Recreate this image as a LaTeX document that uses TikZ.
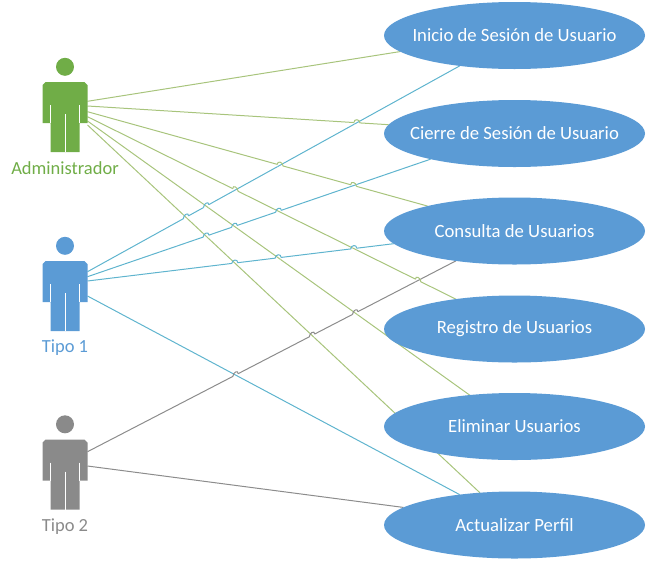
\documentclass[tikz,border=0pt]{standalone}
\usepackage{fontspec}
\setmainfont{Carlito}
\usetikzlibrary{shapes.geometric,positioning,calc,intersections,backgrounds}

\definecolor{usecaseblue}{HTML}{5B9BD5}
\definecolor{admingreen}{HTML}{70AD47}
\definecolor{actorgray}{HTML}{8A8A8A}
\definecolor{greenwire}{HTML}{A8C47C}
\definecolor{bluewire}{HTML}{5FB4CE}
\definecolor{graywire}{HTML}{8C8C8C}

\tikzset{
  usecase/.style={ellipse, fill=usecaseblue, text=white, minimum width=261pt, minimum height=67pt,
    inner sep=0pt, outer sep=0pt, font=\fontsize{18.7}{22}\selectfont},
  actorname/.style={font=\fontsize{18.5}{22}\selectfont, inner sep=0pt},
  greenline/.style={draw=greenwire, line width=1pt},
  blueline/.style={draw=bluewire, line width=1pt},
  grayline/.style={draw=graywire, line width=1pt}
}

% name, y of the body, colour, text
\newcommand{\actor}[4]{
  \node (#1) [minimum width=45pt, minimum height=70pt, inner sep=0pt, outer sep=0pt] at (65,#2) {};
  \node (#1head) [circle, fill=#3, minimum size=18pt, inner sep=0pt, above=6pt of #1] {};
  \node (#1name) [actorname, text=#3, below=9pt of #1] {#4};
  \fill[#3] ([shift={(-19.5,-35)}]#1.center) -- ++(39,0) -- ++(3,3) -- ++(0,38) -- ++(-8,0) -- ++(0,29)
    -- ++(-29,0) -- ++(0,-29) -- ++(-8,0) -- ++(0,-38) -- cycle;
  \draw[white, line width=.8pt] ([shift={(-14.5,-12)}]#1.center) -- ++(0,18);
  \draw[white, line width=.8pt] ([shift={(14.5,-12)}]#1.center) -- ++(0,18);
  \draw[white, line width=.8pt] ([shift={(0,-3)}]#1.center) -- ++(0,38);
}

% line that jumps, its style, line below, its style
\newcommand{\hop}[4]{
  \path[name path=hopa] (#1s) -- (#1e);
  \path[name path=hopb] (#3s) -- (#3e);
  \path[name intersections={of=hopa and hopb, by=x}];
  \fill[white] (x) circle (3pt);
  \begin{scope}
    \clip (x) circle (3pt);
    \draw[#4] (#3s) -- (#3e);
  \end{scope}
  \draw[#2] ($(x)!3pt!(#1s)$) .. controls +(0,-4) and +(0,-4) .. ($(x)!3pt!(#1e)$);
}

\begin{document}
\begin{tikzpicture}[x=1pt, y=-1pt]
  \useasboundingbox (0,0) rectangle (647,560);

  \actor{admin}{117}{admingreen}{Administrador}
  \actor{tipoa}{296}{usecaseblue}{Tipo 1}
  \actor{tipob}{474.5}{actorgray}{Tipo 2}

  \node (inicio) [usecase] at (514.5,35.5) {\makebox[0pt]{Inicio de Sesión de Usuario}};
  \node (cierre) [usecase] at (514.5,133.5) {\makebox[0pt]{Cierre de Sesión de Usuario}};
  \node (consulta) [usecase] at (514.5,231) {\makebox[0pt]{Consulta de Usuarios}};
  \node (registro) [usecase] at (514.5,329) {\makebox[0pt]{Registro de Usuarios}};
  \node (eliminar) [usecase] at (514.5,426.5) {\makebox[0pt]{Eliminar Usuarios}};
  \node (perfil) [usecase] at (514.5,525) {\makebox[0pt]{Actualizar Perfil}};

  \begin{scope}[on background layer]
    \foreach \id/\sty/\from/\shift/\to/\ang in {
      la/greenline/admin/15.7/inicio/188.7, lb/greenline/admin/11/cierre/176.2,
      lc/greenline/admin/5.3/consulta/164.4, ld/greenline/admin/.3/registro/153.6,
      le/greenline/admin/-4/eliminar/145.3, lf/greenline/admin/-8/perfil/137.1,
      ta/blueline/tipoa/24.3/inicio/209.2, tb/blueline/tipoa/19.3/cierre/197.8,
      tc/blueline/tipoa/15/consulta/186.7, td/blueline/tipoa/0/perfil/151.2,
      ga/grayline/tipob/22.8/consulta/207.1, gb/grayline/tipob/8.5/perfil/171.6}
      \draw[\sty] ([yshift=\shift pt]\from.east) coordinate (\id s) -- (\to.\ang) coordinate (\id e);

    \hop{lb}{greenline}{ta}{blueline}
    \hop{lc}{greenline}{ta}{blueline}
    \hop{ld}{greenline}{ta}{blueline}
    \hop{ta}{blueline}{le}{greenline}
    \hop{ta}{blueline}{lf}{greenline}
    \hop{lc}{greenline}{tb}{blueline}
    \hop{tb}{blueline}{ld}{greenline}
    \hop{tb}{blueline}{le}{greenline}
    \hop{tb}{blueline}{lf}{greenline}
    \hop{tc}{blueline}{ld}{greenline}
    \hop{tc}{blueline}{le}{greenline}
    \hop{tc}{blueline}{lf}{greenline}
    \hop{ga}{grayline}{td}{blueline}
    \hop{ga}{grayline}{lf}{greenline}
    \hop{ga}{grayline}{le}{greenline}
    \hop{ld}{greenline}{ga}{grayline}
  \end{scope}
\end{tikzpicture}
\end{document}
